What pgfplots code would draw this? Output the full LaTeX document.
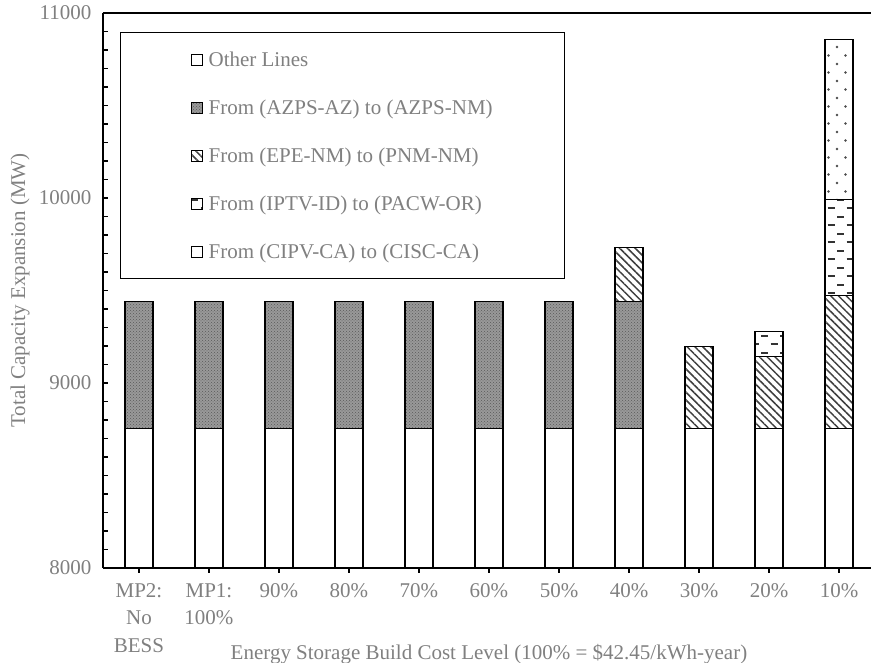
\documentclass[border=0pt]{standalone}
\usepackage{pgfplots}
\pgfplotsset{compat=1.18}
\usepackage{pgfplotstable}
\usepackage{fontspec}
\setmainfont{Liberation Serif}
\usetikzlibrary{patterns,patterns.meta}
\definecolor{txt}{RGB}{128,128,128}
\pgfdeclarepatternformonly{hdash}{\pgfpoint{-1pt}{-1pt}}{\pgfpoint{20pt}{18pt}}{\pgfpoint{19pt}{17pt}}{%
  \pgfsetlinewidth{2pt}%
  \pgfpathmoveto{\pgfpoint{1pt}{4pt}}\pgfpathlineto{\pgfpoint{8pt}{4pt}}%
  \pgfpathmoveto{\pgfpoint{10.5pt}{12.5pt}}\pgfpathlineto{\pgfpoint{17.5pt}{12.5pt}}%
  \pgfusepath{stroke}}
\pgfdeclarepatternformonly{sdots}{\pgfpoint{-1pt}{-1pt}}{\pgfpoint{18pt}{18pt}}{\pgfpoint{17pt}{17pt}}{%
  \pgfpathcircle{\pgfpoint{4pt}{4pt}}{1.3pt}%
  \pgfpathcircle{\pgfpoint{12.5pt}{12.5pt}}{1.3pt}%
  \pgfusepath{fill}}
\pgfplotsset{sqleg/.style={legend image code/.code={\draw[##1,line width=1.1pt] (0pt,-5.5pt) rectangle (11pt,5.5pt);}}}
\pgfplotstableread{
x other azps epe iptv cipv
0 8756 685 0 0 0
1 8756 685 0 0 0
2 8756 685 0 0 0
3 8756 685 0 0 0
4 8756 685 0 0 0
5 8756 685 0 0 0
6 8756 685 0 0 0
7 8756 685 291 0 0
8 8756 0 440 0 0
9 8756 0 387 135 0
10 8756 0 717 519 865
}\data
\begin{document}
\begin{tikzpicture}
\begin{axis}[
  scale only axis, width=768pt, height=555pt,
  xmin=-0.514, xmax=10.457, ymin=8000, ymax=11000,
  enlargelimits=false,
  ybar stacked, bar width=28pt,
  axis x line=box, axis y line=left,
  every non boxed y axis/.style={},
  y axis line style={-}, x axis line style={-},
  axis line style={line width=1.3pt, black},
  xtick pos=left, xtick align=outside, ytick align=inside,
  ytick={8000,9000,10000,11000}, minor y tick num=9,
  scaled y ticks=false,
  major tick length=5pt, minor tick length=5pt,
  tick style={line width=1.1pt, black},
  xtick={0,...,10},
  xticklabels={{MP2:\\No\\BESS},{MP1:\\100\%},90\%,80\%,70\%,60\%,50\%,40\%,30\%,20\%,10\%},
  xticklabel style={align=center, anchor=north, font=\fontsize{21pt}{27.5pt}\selectfont, text=txt, yshift=-7pt},
  yticklabel style={font=\fontsize{21pt}{25pt}\selectfont, text=txt, xshift=-8pt},
  /pgf/number format/assume math mode=true,
  /pgf/number format/1000 sep={},
  ylabel={Total Capacity Expansion (MW)},
  xlabel={Energy Storage Build Cost Level (100\% = \$42.45/kWh-year)},
  label style={font=\fontsize{21pt}{25pt}\selectfont, text=txt},
  ylabel style={at={(axis description cs:-0.1081,0.5)}, anchor=center},
  xlabel style={at={(axis description cs:0.5026,-0.155)}, anchor=center},
  every axis plot/.append style={draw=black, line width=1.2pt},
  legend style={at={(rel axis cs:0.0221,0.9658)}, anchor=north west, draw=black, line width=1.1pt,
    inner xsep=70pt, inner ysep=17pt, row sep=28pt, font=\fontsize{21pt}{25pt}\selectfont, text=txt,
    cells={anchor=west}, /tikz/every odd column/.append style={column sep=4pt}},
  legend cell align=left,
]
\addplot[fill=white, sqleg] table[x=x,y=other]{\data};
\addplot[fill=black!40, postaction={pattern=crosshatch dots, pattern color=black!65}, sqleg] table[x=x,y=azps]{\data};
\addplot[fill=white, postaction={pattern={Lines[angle=-45,distance=5.5pt,line width=1.5pt]}, pattern color=black!75}, sqleg] table[x=x,y=epe]{\data};
\addplot[fill=white, postaction={pattern=hdash, pattern color=black!80}, sqleg] table[x=x,y=iptv]{\data};
\addplot[fill=white, postaction={pattern=sdots, pattern color=black!70}, sqleg] table[x=x,y=cipv]{\data};
\legend{Other Lines, From (AZPS-AZ) to (AZPS-NM), From (EPE-NM) to (PNM-NM), From (IPTV-ID) to (PACW-OR), From (CIPV-CA) to (CISC-CA)}
\coordinate (bl) at (rel axis cs:0,0);
\end{axis}
\pgfresetboundingbox
\path[use as bounding box] (bl) ++(-103pt,-95pt) rectangle ++(871pt,663pt);
\end{tikzpicture}
\end{document}
